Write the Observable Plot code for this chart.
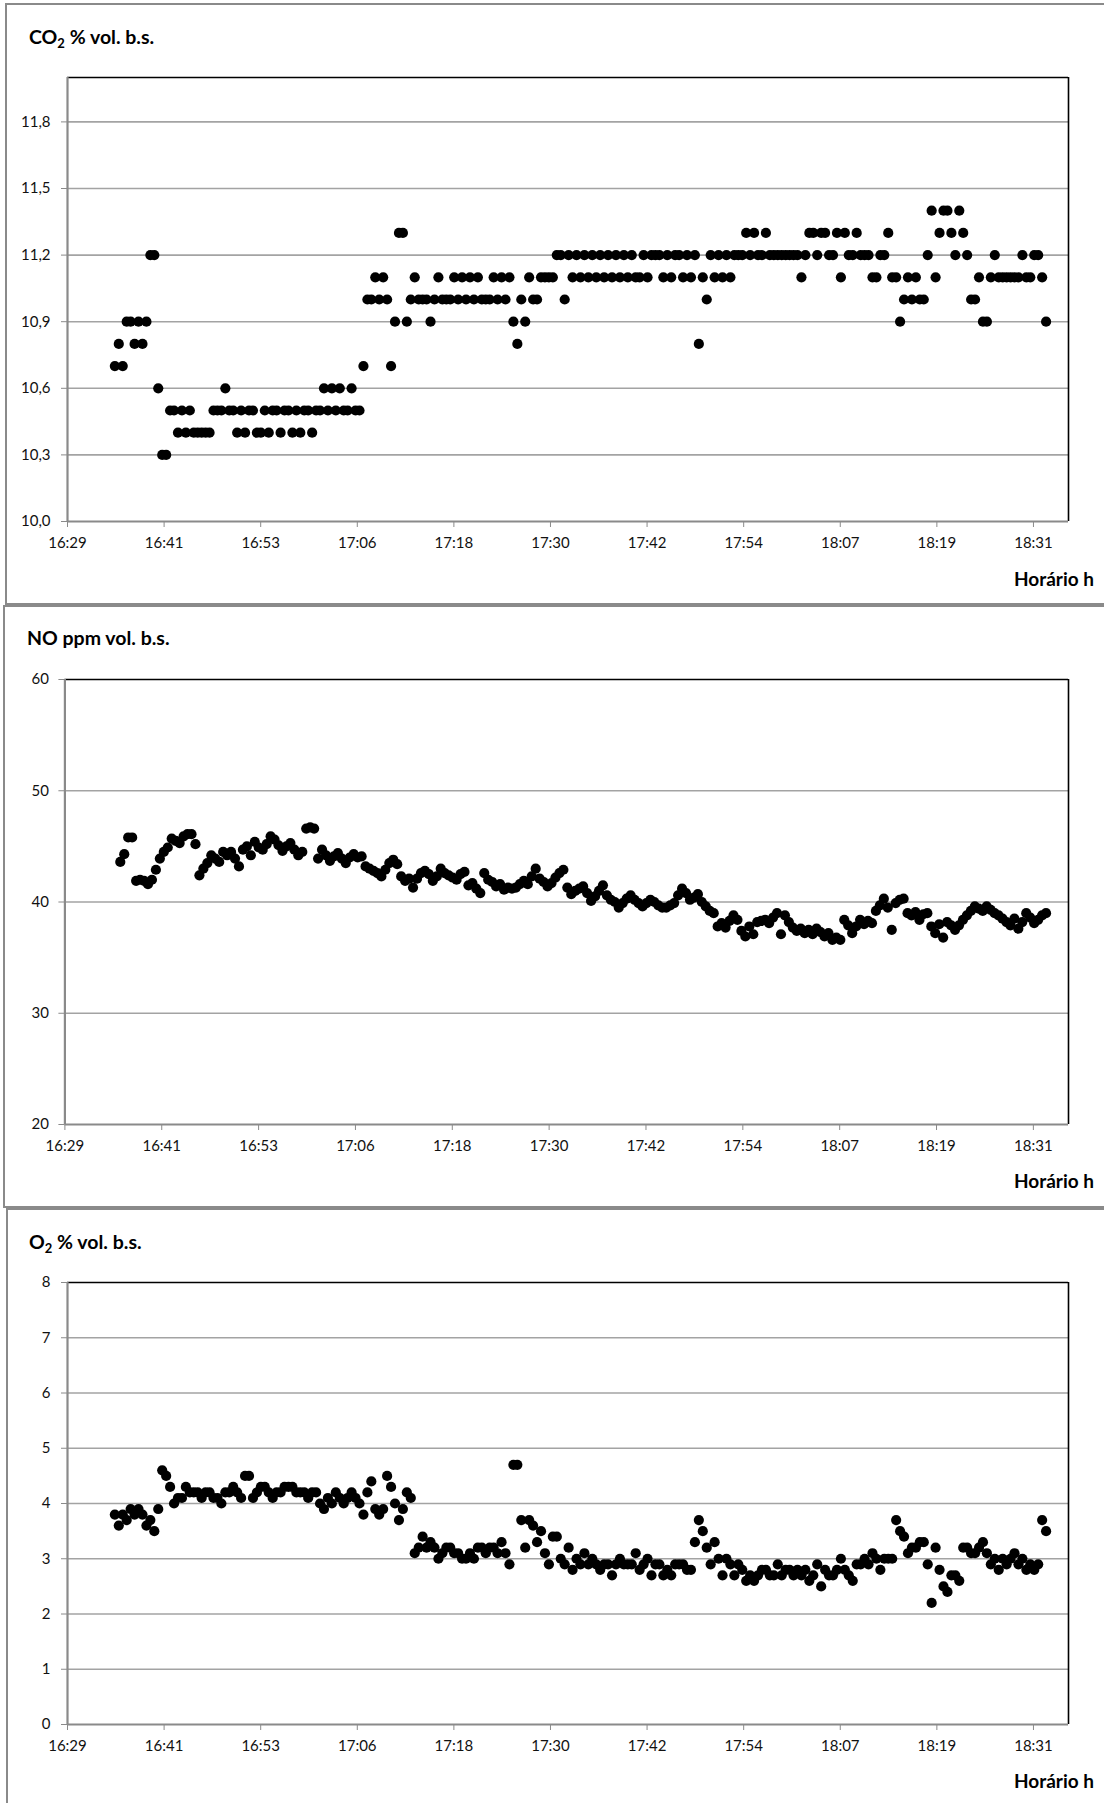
<!DOCTYPE html>
<html><head><meta charset="utf-8">
<script src="https://cdn.jsdelivr.net/npm/d3@7"></script>
<script src="https://cdn.jsdelivr.net/npm/@observablehq/plot@0.6"></script>
<style>
body{margin:0;background:#fff;}
#root{position:relative;width:1104px;height:1803px;overflow:hidden;font-family:Lato,"Open Sans",sans-serif;background:#fff;}
.panel{position:absolute;border:2px solid #8a8a8a;box-sizing:border-box;}
.title{position:absolute;font-weight:bold;font-size:19.5px;line-height:18px;color:#000;white-space:nowrap;}
.title sub{font-size:13px;line-height:0;vertical-align:-4px;}
.xcap{position:absolute;right:10px;font-weight:bold;font-size:19px;line-height:18px;color:#000;white-space:nowrap;}
</style></head>
<body><div id="root"></div>
<script>
// ---- time axis (minutes after 16:29) ----
const tickLabels = ["16:29","16:41","16:53","17:06","17:18","17:30","17:42","17:54","18:07","18:19","18:31"];
const majorUnitMin = 12.24;
const axisEndMin = 126.84;
const sampleStartMin = 6;    // first sample 16:35
const sampleStepMin = 0.5;   // one sample every 30 s

// ---- CO2 % vol. b.s. ----
const co2Ticks = [10.0, 10.3, 10.6, 10.9, 11.2, 11.5, 11.8];
const co2 = [
10.7,10.8,10.7,10.9,10.9,10.8,10.9,10.8,10.9,11.2,
11.2,10.6,10.3,10.3,10.5,10.5,10.4,10.5,10.4,10.5,
10.4,10.4,10.4,10.4,10.4,10.5,10.5,10.5,10.6,10.5,
10.5,10.4,10.5,10.4,10.5,10.5,10.4,10.4,10.5,10.4,
10.5,10.5,10.4,10.5,10.5,10.4,10.5,10.4,10.5,10.5,
10.4,10.5,10.5,10.6,10.5,10.6,10.5,10.6,10.5,10.5,
10.6,10.5,10.5,10.7,11.0,11.0,11.1,11.0,11.1,11.0,
10.7,10.9,11.3,11.3,10.9,11.0,11.1,11.0,11.0,11.0,
10.9,11.0,11.1,11.0,11.0,11.0,11.1,11.0,11.1,11.0,
11.1,11.0,11.1,11.0,11.0,11.0,11.1,11.0,11.1,11.0,
11.1,10.9,10.8,11.0,10.9,11.1,11.0,11.0,11.1,11.1,
11.1,11.1,11.2,11.2,11.0,11.2,11.1,11.2,11.1,11.2,
11.1,11.2,11.1,11.2,11.1,11.2,11.1,11.2,11.1,11.2,
11.1,11.2,11.1,11.1,11.2,11.1,11.2,11.2,11.2,11.1,
11.2,11.1,11.2,11.2,11.1,11.2,11.1,11.2,10.8,11.1,
11.0,11.2,11.1,11.2,11.1,11.2,11.1,11.2,11.2,11.2,
11.3,11.2,11.3,11.2,11.2,11.3,11.2,11.2,11.2,11.2,
11.2,11.2,11.2,11.2,11.1,11.2,11.3,11.3,11.2,11.3,
11.3,11.2,11.2,11.3,11.1,11.3,11.2,11.2,11.3,11.2,
11.2,11.2,11.1,11.1,11.2,11.2,11.3,11.1,11.1,10.9,
11.0,11.1,11.0,11.1,11.0,11.0,11.2,11.4,11.1,11.3,
11.4,11.4,11.3,11.2,11.4,11.3,11.2,11.0,11.0,11.1,
10.9,10.9,11.1,11.2,11.1,11.1,11.1,11.1,11.1,11.1,
11.2,11.1,11.1,11.2,11.2,11.1,10.9
];

// ---- NO ppm vol. b.s. ----
const noTicks = [20, 30, 40, 50, 60];
const no = [
null,null,43.6,44.3,45.8,45.8,41.9,42.0,41.9,41.6,
42.0,42.9,43.9,44.5,44.9,45.7,45.5,45.3,45.9,46.1,
46.1,45.2,42.4,43.0,43.5,44.2,43.9,43.6,44.5,44.2,
44.5,43.9,43.2,44.7,45.0,44.2,45.4,44.9,44.7,45.2,
45.9,45.6,45.1,44.6,45.0,45.3,44.7,44.2,44.5,46.6,
46.7,46.6,43.9,44.7,44.2,43.7,44.1,44.4,43.9,43.5,
44.0,44.3,44.0,44.1,43.2,43.0,42.8,42.6,42.3,42.9,
43.5,43.8,43.4,42.3,41.9,42.1,41.3,42.1,42.6,42.8,
42.5,41.9,42.3,43.0,42.6,42.4,42.2,42.0,42.5,42.7,
41.5,41.7,41.2,40.8,42.6,42.0,41.8,41.4,41.6,41.1,
41.3,41.2,41.3,41.6,41.9,41.6,42.3,43.0,42.1,41.8,
41.4,41.7,42.2,42.6,42.9,41.3,40.7,41.0,41.2,41.4,
40.8,40.1,40.5,41.0,41.5,40.6,40.2,40.0,39.5,39.9,
40.3,40.6,40.2,39.9,39.6,39.9,40.2,40.0,39.7,39.5,
39.5,39.7,39.9,40.6,41.2,40.8,40.2,40.4,40.7,40.0,
39.6,39.2,39.0,37.8,38.1,37.7,38.3,38.8,38.4,37.4,
36.9,37.8,37.1,38.2,38.3,38.4,38.1,38.6,39.0,37.1,
38.8,38.2,37.7,37.4,37.6,37.2,37.5,37.1,37.6,37.3,
36.9,37.2,36.6,36.8,36.6,38.4,37.9,37.2,37.8,38.4,
38.0,38.3,38.1,39.2,39.7,40.3,39.5,37.5,39.9,40.2,
40.3,39.0,38.8,39.1,38.4,38.9,39.0,37.8,37.2,38.0,
36.8,38.2,37.9,37.5,37.9,38.4,38.8,39.2,39.6,39.4,
39.2,39.6,39.3,39.0,38.8,38.5,38.2,37.9,38.5,37.6,
38.2,39.0,38.6,38.1,38.4,38.8,39.0
];

// ---- O2 % vol. b.s. ----
const o2Ticks = [0, 1, 2, 3, 4, 5, 6, 7, 8];
const o2 = [
3.8,3.6,3.8,3.7,3.9,3.8,3.9,3.8,3.6,3.7,
3.5,3.9,4.6,4.5,4.3,4.0,4.1,4.1,4.3,4.2,
4.2,4.2,4.1,4.2,4.2,4.1,4.1,4.0,4.2,4.2,
4.3,4.2,4.1,4.5,4.5,4.1,4.2,4.3,4.3,4.2,
4.1,4.2,4.2,4.3,4.3,4.3,4.2,4.2,4.2,4.1,
4.2,4.2,4.0,3.9,4.1,4.0,4.2,4.1,4.0,4.1,
4.2,4.1,4.0,3.8,4.2,4.4,3.9,3.8,3.9,4.5,
4.3,4.0,3.7,3.9,4.2,4.1,3.1,3.2,3.4,3.2,
3.3,3.2,3.0,3.1,3.2,3.2,3.1,3.1,3.0,3.0,
3.1,3.0,3.2,3.2,3.1,3.2,3.2,3.1,3.3,3.1,
2.9,4.7,4.7,3.7,3.2,3.7,3.6,3.3,3.5,3.1,
2.9,3.4,3.4,3.0,2.9,3.2,2.8,3.0,2.9,3.1,
2.9,3.0,2.9,2.8,2.9,2.9,2.7,2.9,3.0,2.9,
2.9,2.9,3.1,2.8,2.9,3.0,2.7,2.9,2.9,2.7,
2.8,2.7,2.9,2.9,2.9,2.8,2.8,3.3,3.7,3.5,
3.2,2.9,3.3,3.0,2.7,3.0,2.9,2.7,2.9,2.8,
2.6,2.7,2.6,2.7,2.8,2.8,2.7,2.7,2.9,2.7,
2.8,2.8,2.7,2.8,2.7,2.8,2.6,2.7,2.9,2.5,
2.8,2.7,2.7,2.8,3.0,2.8,2.7,2.6,2.9,2.9,
3.0,2.9,3.1,3.0,2.8,3.0,3.0,3.0,3.7,3.5,
3.4,3.1,3.2,3.2,3.3,3.3,2.9,2.2,3.2,2.8,
2.5,2.4,2.7,2.7,2.6,3.2,3.2,3.1,3.1,3.2,
3.3,3.1,2.9,3.0,2.8,3.0,2.9,3.0,3.1,2.9,
3.0,2.8,2.9,2.8,2.9,3.7,3.5
];

const root = document.getElementById("root");
const xTicks = tickLabels.map((_, k) => k * majorUnitMin);

function addDiv(cls, css, html) {
  const d = document.createElement("div");
  d.className = cls;
  Object.assign(d.style, css);
  if (html != null) d.innerHTML = html;
  root.appendChild(d);
  return d;
}

function makeChart({values, ticks, domain, plotTop, plotBottom, plotLeft, fmt, yPad}) {
  const data = values.map((v, i) => ({t: sampleStartMin + i * sampleStepMin, v})).filter(d => d.v != null);
  const mt = 20, mb = 46;
  const svg = Plot.plot({
    width: 1104,
    height: plotBottom - plotTop + mt + mb,
    marginTop: mt, marginBottom: mb, marginLeft: plotLeft, marginRight: 1104 - 1068,
    style: {fontFamily: "Lato, 'Open Sans', sans-serif", fontSize: "15px", color: "#111", background: "transparent", overflow: "visible"},
    x: {type: "linear", domain: [0, axisEndMin]},
    y: {type: "linear", domain},
    marks: [
      Plot.ruleY(ticks.filter(d => d > domain[0] && d < domain[1]), {stroke: "#a3a3a3", strokeWidth: 1.6}),
      Plot.ruleY([domain[1]], {stroke: "#000", strokeWidth: 1.6}),
      Plot.ruleX([axisEndMin], {stroke: "#000", strokeWidth: 1.6}),
      Plot.axisY({ticks, tickFormat: fmt, tickSize: 6, tickPadding: yPad, stroke: "#8a8a8a", fill: "#111", label: null, fontSize: 15}),
      Plot.axisX({ticks: xTicks, tickFormat: d => tickLabels[Math.round(d / majorUnitMin)], tickSize: 6, tickPadding: 9.5, stroke: "#8a8a8a", fill: "#111", label: null, fontSize: 15}),
      Plot.ruleX([0], {stroke: "#8a8a8a", strokeWidth: 2.2}),
      Plot.ruleY([domain[0]], {stroke: "#8a8a8a", strokeWidth: 2.2}),
      Plot.dot(data, {x: "t", y: "v", r: 5.1, fill: "#000"})
    ]
  });
  svg.style.position = "absolute";
  svg.style.left = "0px";
  svg.style.top = (plotTop - mt) + "px";
  root.appendChild(svg);
}

// Panel 1 : CO2
addDiv("panel", {left: "5px", top: "3px", width: "1115px", height: "602px"});
addDiv("title", {left: "29px", top: "28px"}, "CO<sub>2</sub> % vol. b.s.");
makeChart({values: co2, ticks: co2Ticks, domain: [10, 12], plotTop: 77, plotBottom: 521, plotLeft: 67,
  fmt: d => d.toFixed(1).replace(".", ","), yPad: 11});
addDiv("xcap", {top: "570px"}, "Horário h");

// Panel 2 : NO
addDiv("panel", {left: "3px", top: "605px", width: "1115px", height: "603px"});
addDiv("title", {left: "27px", top: "629px"}, "NO ppm vol. b.s.");
makeChart({values: no, ticks: noTicks, domain: [20, 60], plotTop: 678.5, plotBottom: 1123.5, plotLeft: 64.4,
  fmt: d => String(d), yPad: 10});
addDiv("xcap", {top: "1172px"}, "Horário h");

// Panel 3 : O2
addDiv("panel", {left: "6px", top: "1208px", width: "1115px", height: "700px"});
addDiv("title", {left: "29px", top: "1233px"}, "O<sub>2</sub> % vol. b.s.");
makeChart({values: o2, ticks: o2Ticks, domain: [0, 8], plotTop: 1282, plotBottom: 1724, plotLeft: 67,
  fmt: d => String(d), yPad: 11});
addDiv("xcap", {top: "1772px"}, "Horário h");
</script>
</body></html>
